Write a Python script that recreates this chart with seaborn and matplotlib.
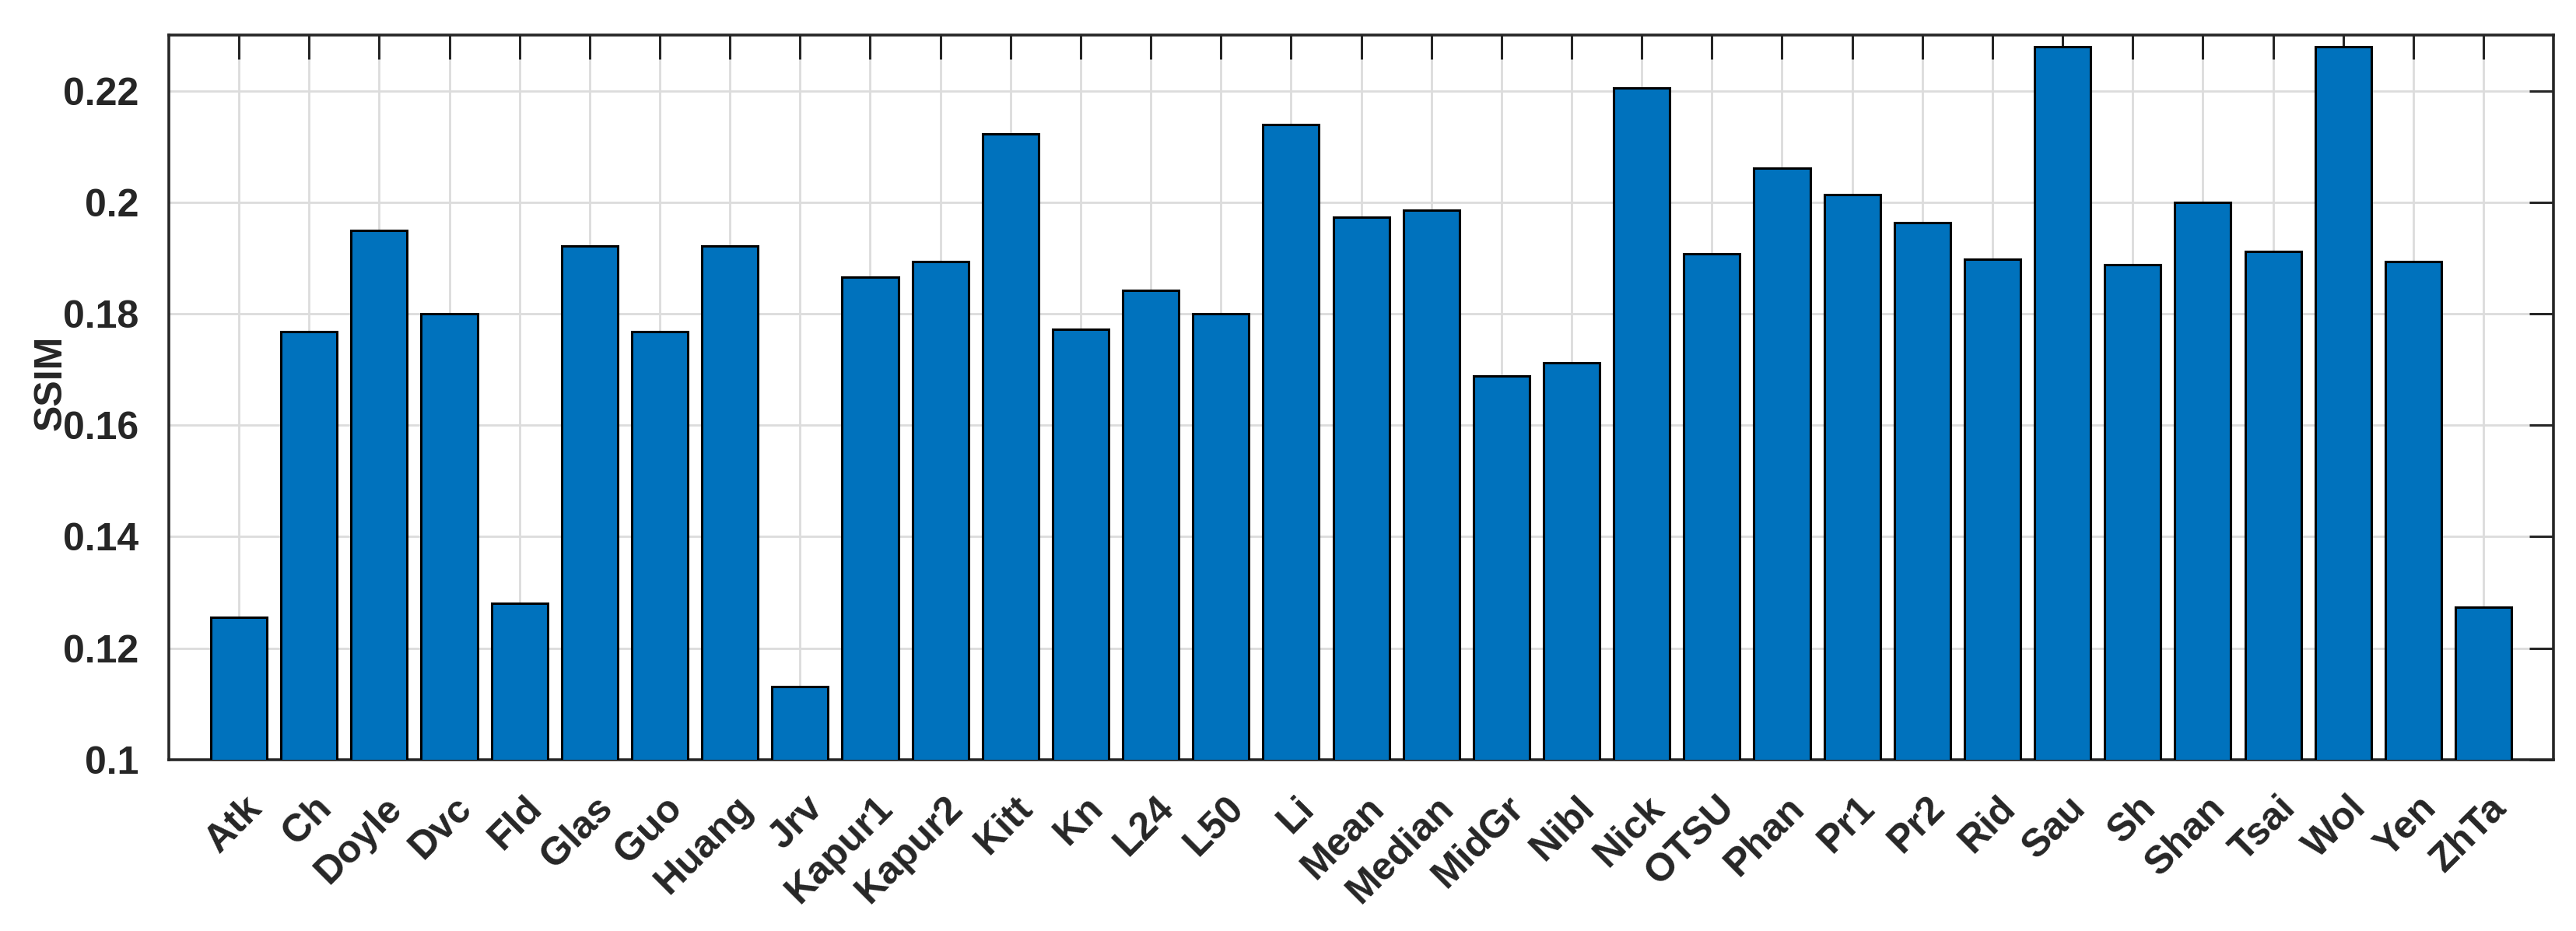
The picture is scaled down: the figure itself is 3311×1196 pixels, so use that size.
import matplotlib
matplotlib.use("Agg")
import matplotlib.pyplot as plt
import matplotlib.transforms as mtransforms
import seaborn as sns
from matplotlib.ticker import FuncFormatter

# ===============================
# Datos
# ===============================

methods = ["Atk", "Ch", "Doyle", "Dvc", "Fld", "Glas", "Guo", "Huang", "Jrv",
           "Kapur1", "Kapur2", "Kitt", "Kn", "L24", "L50", "Li", "Mean", "Median",
           "MidGr", "Nibl", "Nick", "OTSU", "Phan", "Pr1", "Pr2", "Rid", "Sau",
           "Sh", "Shan", "Tsai", "Wol", "Yen", "ZhTa"]

ssim = [0.1256, 0.1768, 0.1949, 0.1800, 0.1280, 0.1921, 0.1768, 0.1921, 0.1131,
        0.1865, 0.1893, 0.2122, 0.1772, 0.1842, 0.1800, 0.2140, 0.1973, 0.1986,
        0.1688, 0.1712, 0.2205, 0.1907, 0.2061, 0.2014, 0.1964, 0.1898, 0.2279,
        0.1888, 0.2000, 0.1912, 0.2279, 0.1893, 0.1274]

y_ticks = [0.1, 0.12, 0.14, 0.16, 0.18, 0.2, 0.22]

# ===============================
# Estilo
# ===============================

sns.set_style("white")
plt.rcParams["font.family"] = ["Liberation Sans", "DejaVu Sans"]
plt.rcParams["font.weight"] = "bold"

TXT = "#262626"
FS = 36

fig = plt.figure(figsize=(33.12, 11.96), dpi=100)
ax = fig.add_axes([0.0655, 0.184, 0.9255, 0.7784])

sns.barplot(x=methods, y=ssim, color="#0072BD", saturation=1,
            edgecolor="black", linewidth=2.2, width=0.8, ax=ax, zorder=3)

ax.set_xlim(-1, len(methods))
ax.set_ylim(0.1, 0.23)
ax.set_yticks(y_ticks)
ax.yaxis.set_major_formatter(FuncFormatter(lambda v, p: f"{v:g}"))

ax.grid(True, color="#dcdcdc", linewidth=2, zorder=0)
ax.set_axisbelow(True)

ax.tick_params(axis="both", direction="in", length=22, width=2.2, color=TXT,
               top=True, right=True, labelsize=FS, labelcolor=TXT)
ax.tick_params(axis="y", pad=28)
ax.tick_params(axis="x", pad=0)

# etiquetas del eje x giradas 45 grados, estilo MATLAB
offset = mtransforms.ScaledTranslation(0.22, -0.55, fig.dpi_scale_trans)
for lbl in ax.get_xticklabels():
    lbl.set_rotation(45)
    lbl.set_ha("right")
    lbl.set_va("center")
    lbl.set_rotation_mode("anchor")
    lbl.set_fontweight("bold")
    lbl.set_transform(lbl.get_transform() + offset)
for lbl in ax.get_yticklabels():
    lbl.set_fontweight("bold")

for s in ax.spines.values():
    s.set_visible(True)
    s.set_color(TXT)
    s.set_linewidth(2.6)

ax.set_xlabel("")
ax.set_ylabel("SSIM", fontsize=FS, fontweight="bold", color=TXT)
ax.yaxis.set_label_coords(-0.0420, 0.52)

fig.savefig("out.png", dpi=100)
plt.close(fig)
